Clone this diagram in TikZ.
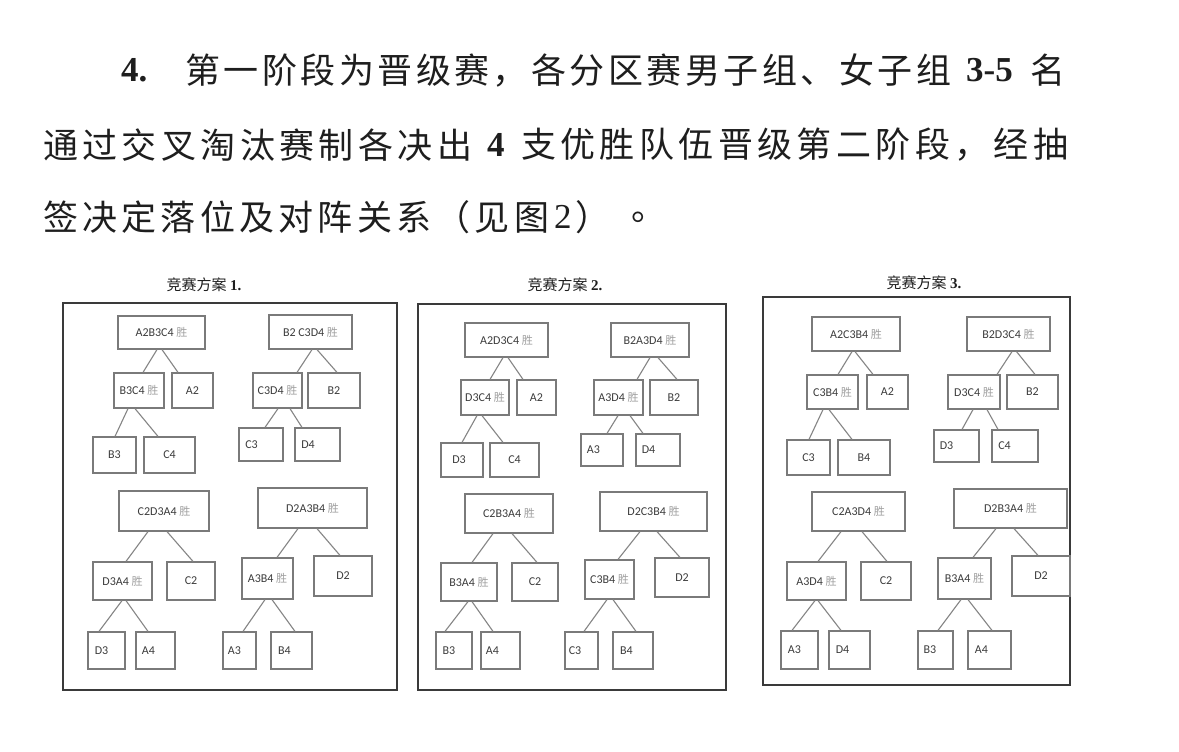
\documentclass[tikz,border=0pt]{standalone}
\usepackage{fontspec}
\setmainfont{Liberation Serif}
\newfontfamily\cjkf{Noto Sans CJK SC}
\newfontfamily\calf{Carlito}
\newfontfamily\tnrb{Liberation Serif}[BoldFont={* Bold}]
\definecolor{boxc}{HTML}{7A7A7A}
\definecolor{linec}{HTML}{858585}
\definecolor{framec}{HTML}{3A3A3A}
\definecolor{labc}{HTML}{3C3C3C}
\definecolor{winc}{HTML}{A0A0A0}
\definecolor{txt}{HTML}{1E1E1E}
\makeatletter
\newcommand\spread[2]{\hbox to #1{\def\spr@sep{\def\spr@sep{\hfil}}\@tfor\spr@x:=#2\do{\spr@sep\spr@x}}}
\makeatother
\tikzset{
  bx/.style={draw=boxc, line width=1.2pt, inner sep=0pt, fill=white},
  lab/.style={inner sep=0pt, font=\calf\fontsize{12}{12}\selectfont, text=labc},
  lnk/.style={draw=linec, line width=1.1pt},
  frame/.style={draw=framec, line width=1.6pt},
  body/.style={anchor=west, inner sep=0pt, font=\cjkf\fontsize{35}{35}\selectfont, text=txt},
  ttl/.style={inner sep=0pt, font=\cjkf\fontsize{15}{15}\selectfont, text=txt},
}
\newcommand\win{~{\cjkf\fontsize{11}{11}\selectfont\color{winc}胜}}
\newcommand\bx[7]{\node[bx,minimum width=#4pt,minimum height=#5pt] (#1) at (#2,#3) {};
  \node[lab] (#1t) at ([xshift=#7pt]#1.center) {#6};}
\newcommand\cn[4]{\draw[lnk] ([xshift=#2pt]#1.south) -- ([xshift=#4pt]#3.north);}
\newcommand\nb[1]{{\tnrb\bfseries #1}}
\begin{document}
\begin{tikzpicture}[x=1pt,y=-1pt]
\fill[white] (0,0) rectangle (1179,752);
\useasboundingbox (0,0) rectangle (1179,752);
% body text
\node[body] (l1a) at (121,70) {\nb{4.}};
\node[body] (l1b) at (185,70) {\spread{766pt}{第一阶段为晋级赛，各分区赛男子组、女子组}};
\node[body] (l1c) at (966,70) {\nb{3-5}};
\node[body] (l1d) at (1030,70) {名};
\node[body] (l2a) at (43,145) {\spread{429pt}{通过交叉淘汰赛制各决出}};
\node[body] (l2b) at (487,145) {\nb{4}};
\node[body] (l2c) at (521,145) {\spread{547pt}{支优胜队伍晋级第二阶段，经抽}};
\node[body] (l3a) at (43,217) {\spread{506pt}{签决定落位及对阵关系（见图}};
\node[body] (l3b) at (554,217) {{\tnrb 2}};
\node[body] (l3c) at (575,217) {）};
\node[body] (l3d) at (631,217) {。};
% titles
\node[ttl] (t1) at (204,285) {竞赛方案 \nb{1.}};
\node[ttl] (t2) at (565,285) {竞赛方案 \nb{2.}};
\node[ttl] (t3) at (924,283) {竞赛方案 \nb{3.}};
% frames
\draw[frame] (63,303) rectangle (397,690);
\draw[frame] (418,304) rectangle (726,690);
\draw[frame] (763,297) rectangle (1070,685);
% ===== panel 1 =====
\bx{p1t1r}{161.5}{332.5}{87}{33}{A2B3C4\win}{0}
\bx{p1t1w}{139}{390.5}{50}{35}{B3C4\win}{0}
\bx{p1t1s}{192.5}{390.5}{41}{35}{A2}{0}
\bx{p1t1l}{114.5}{455}{43}{36}{B3}{0}
\bx{p1t1m}{169.5}{455}{51}{36}{C4}{0}
\cn{p1t1r}{-4.5}{p1t1w}{4}
\cn{p1t1r}{0.5}{p1t1s}{-14.5}
\cn{p1t1w}{-11}{p1t1l}{0.5}
\cn{p1t1w}{-4}{p1t1m}{-11.5}
\bx{p1t2r}{310.5}{332}{83}{34}{B2 C3D4\win}{0}
\bx{p1t2w}{277.5}{390.5}{49}{35}{C3D4\win}{0}
\bx{p1t2s}{334}{390.5}{52}{35}{B2}{0}
\bx{p1t2l}{261}{444.5}{44}{33}{C3}{-9.5}
\bx{p1t2m}{317.5}{444.5}{45}{33}{D4}{-9.5}
\cn{p1t2r}{1.5}{p1t2w}{19.5}
\cn{p1t2r}{6.5}{p1t2s}{3}
\cn{p1t2w}{0.5}{p1t2l}{4}
\cn{p1t2w}{12.5}{p1t2m}{-15.5}
\bx{p1t3r}{164}{511}{90}{40}{C2D3A4\win}{0}
\bx{p1t3w}{122.5}{581}{59}{38}{D3A4\win}{0}
\bx{p1t3s}{191}{581}{48}{38}{C2}{0}
\bx{p1t3l}{106.5}{650.5}{37}{37}{D3}{-5}
\bx{p1t3m}{155.5}{650.5}{39}{37}{A4}{-7}
\cn{p1t3r}{-16}{p1t3w}{3.5}
\cn{p1t3r}{3}{p1t3s}{2}
\cn{p1t3w}{-0.5}{p1t3l}{-7.5}
\cn{p1t3w}{3.5}{p1t3m}{-7.5}
\bx{p1t4r}{312.5}{508}{109}{40}{D2A3B4\win}{0}
\bx{p1t4w}{267.5}{578.5}{51}{41}{A3B4\win}{0}
\bx{p1t4s}{343}{576}{58}{40}{D2}{0}
\bx{p1t4l}{239.5}{650.5}{33}{37}{A3}{-5}
\bx{p1t4m}{291.5}{650.5}{41}{37}{B4}{-7}
\cn{p1t4r}{-14.5}{p1t4w}{9.5}
\cn{p1t4r}{4.5}{p1t4s}{-3}
\cn{p1t4w}{-2.5}{p1t4l}{3.5}
\cn{p1t4w}{4.5}{p1t4m}{3.5}
% ===== panel 2 =====
\bx{p2t1r}{506.5}{340}{83}{34}{A2D3C4\win}{0}
\bx{p2t1w}{485}{397.5}{48}{35}{D3C4\win}{0}
\bx{p2t1s}{536.5}{397.5}{39}{35}{A2}{0}
\bx{p2t1l}{462}{460}{42}{34}{D3}{-3}
\bx{p2t1m}{514.5}{460}{49}{34}{C4}{0}
\cn{p2t1r}{-3.5}{p2t1w}{5}
\cn{p2t1r}{1.5}{p2t1s}{-13.5}
\cn{p2t1w}{-8}{p2t1l}{0}
\cn{p2t1w}{-3}{p2t1m}{-11.5}
\bx{p2t2r}{650}{340}{78}{34}{B2A3D4\win}{0}
\bx{p2t2w}{618.5}{397.5}{49}{35}{A3D4\win}{0}
\bx{p2t2s}{674}{397.5}{48}{35}{B2}{0}
\bx{p2t2l}{602}{450}{42}{32}{A3}{-8.5}
\bx{p2t2m}{658}{450}{44}{32}{D4}{-9.5}
\cn{p2t2r}{0}{p2t2w}{18.5}
\cn{p2t2r}{8}{p2t2s}{3}
\cn{p2t2w}{-0.5}{p2t2l}{5}
\cn{p2t2w}{11.5}{p2t2m}{-15}
\bx{p2t3r}{509}{513.5}{88}{39}{C2B3A4\win}{0}
\bx{p2t3w}{469}{582}{56}{38}{B3A4\win}{0}
\bx{p2t3s}{535}{582}{46}{38}{C2}{0}
\bx{p2t3l}{454}{650.5}{36}{37}{B3}{-5}
\bx{p2t3m}{500.5}{650.5}{39}{37}{A4}{-8}
\cn{p2t3r}{-16}{p2t3w}{3}
\cn{p2t3r}{3}{p2t3s}{2}
\cn{p2t3w}{-1}{p2t3l}{-9}
\cn{p2t3w}{3}{p2t3m}{-7.5}
\bx{p2t4r}{653.5}{511.5}{107}{39}{D2C3B4\win}{0}
\bx{p2t4w}{609.5}{579.5}{49}{39}{C3B4\win}{0}
\bx{p2t4s}{682}{577.5}{54}{39}{D2}{0}
\bx{p2t4l}{581.5}{650.5}{33}{37}{C3}{-6.5}
\bx{p2t4m}{633}{650.5}{40}{37}{B4}{-6.5}
\cn{p2t4r}{-13.5}{p2t4w}{8.5}
\cn{p2t4r}{3.5}{p2t4s}{-2}
\cn{p2t4w}{-2.5}{p2t4l}{2.5}
\cn{p2t4w}{3.5}{p2t4m}{3}
% ===== panel 3 =====
\bx{p3t1r}{856}{334}{88}{34}{A2C3B4\win}{0}
\bx{p3t1w}{832.5}{392}{51}{34}{C3B4\win}{0}
\bx{p3t1s}{887.5}{392}{41}{34}{A2}{0}
\bx{p3t1l}{808.5}{457.5}{43}{35}{C3}{0}
\bx{p3t1m}{864}{457.5}{52}{35}{B4}{0}
\cn{p3t1r}{-4}{p3t1w}{5.5}
\cn{p3t1r}{-1}{p3t1s}{-14.5}
\cn{p3t1w}{-9.5}{p3t1l}{0.5}
\cn{p3t1w}{-3.5}{p3t1m}{-12}
\bx{p3t2r}{1008.5}{334}{83}{34}{B2D3C4\win}{0}
\bx{p3t2w}{974}{392}{52}{34}{D3C4\win}{0}
\bx{p3t2s}{1032.5}{392}{51}{34}{B2}{0}
\bx{p3t2l}{956.5}{446}{45}{32}{D3}{-10}
\bx{p3t2m}{1015}{446}{46}{32}{C4}{-10.5}
\cn{p3t2r}{3.5}{p3t2w}{23}
\cn{p3t2r}{8}{p3t2s}{2.5}
\cn{p3t2w}{-1}{p3t2l}{5.5}
\cn{p3t2w}{13}{p3t2m}{-17}
\bx{p3t3r}{858.5}{511.5}{93}{39}{C2A3D4\win}{0}
\bx{p3t3w}{816.5}{581}{59}{38}{A3D4\win}{0}
\bx{p3t3s}{886}{581}{50}{38}{C2}{0}
\bx{p3t3l}{799.5}{650}{37}{38}{A3}{-5}
\bx{p3t3m}{849.5}{650}{41}{38}{D4}{-7}
\cn{p3t3r}{-17.5}{p3t3w}{1.5}
\cn{p3t3r}{3.5}{p3t3s}{1}
\cn{p3t3w}{-1.5}{p3t3l}{-7.5}
\cn{p3t3w}{1.5}{p3t3m}{-8.5}
\bx{p3t4r}{1010.5}{508.5}{113}{39}{D2B3A4\win}{0}
\bx{p3t4w}{964.5}{578.5}{53}{41}{B3A4\win}{0}
\bx{p3t4s}{1041}{576}{58}{40}{D2}{0}
\bx{p3t4l}{935.5}{650}{35}{38}{B3}{-5.5}
\bx{p3t4m}{989.5}{650}{43}{38}{A4}{-8}
\cn{p3t4r}{-14.5}{p3t4w}{8.5}
\cn{p3t4r}{3.5}{p3t4s}{-3}
\cn{p3t4w}{-3.5}{p3t4l}{2.5}
\cn{p3t4w}{3.5}{p3t4m}{2.5}
\end{tikzpicture}
\end{document}
